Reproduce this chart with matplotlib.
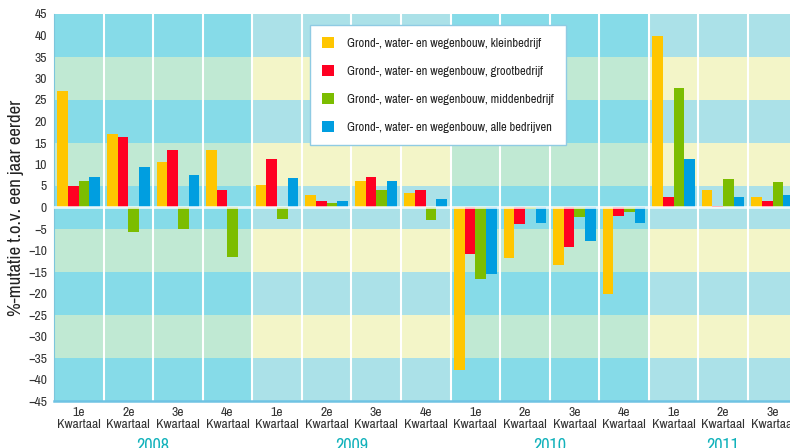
import numpy as np
import matplotlib
matplotlib.use('Agg')
import matplotlib.pyplot as plt
from matplotlib.patches import Rectangle
from matplotlib import font_manager

# pick a narrow font if there is one
fonts = font_manager.fontManager.ttflist
narrow = [f for f in fonts if 'Narrow' in f.name or 'Condensed' in f.name]
cond = [f for f in fonts if f.stretch in ('condensed', 'semi-condensed', 550, 600, 625, 650, 700)
        and f.style == 'normal' and f.weight in (400, 'normal', 'regular')]
stretch = 'normal'
if narrow:
    font = narrow[0].name
elif cond:
    font = cond[0].name
    stretch = 'condensed'
else:
    font = 'DejaVu Sans'
plt.rcParams['font.family'] = [font, 'DejaVu Sans']
plt.rcParams['font.stretch'] = stretch
scale = 1.0 if (narrow or cond) else 0.85

# data
quarters = ['1e', '2e', '3e', '4e',
            '1e', '2e', '3e', '4e',
            '1e', '2e', '3e', '4e',
            '1e', '2e', '3e']
years = ['2008', '2009', '2010', '2011']
year_quarters = [4, 4, 4, 3]

labels = ['Grond-, water- en wegenbouw, kleinbedrijf',
          'Grond-, water- en wegenbouw, grootbedrijf',
          'Grond-, water- en wegenbouw, middenbedrijf',
          'Grond-, water- en wegenbouw, alle bedrijven']

klein = [27.2, 17.2, 10.5, 13.4, 5.3, 2.9, 6.2, 3.4, -37.7, -11.8, -13.4, -20.2, 39.8, 4.1, 2.5]
groot = [5.0, 16.5, 13.4, 4.1, 11.3, 1.6, 7.1, 4.1, -10.8, -3.8, -9.2, -2.0, 2.5, 0.3, 1.5]
midden = [6.2, -5.7, -5.1, -11.4, -2.7, 1.0, 4.1, -2.9, -16.7, -0.4, -2.2, -1.0, 27.9, 6.7, 6.0]
alle = [7.1, 9.5, 7.6, 0.0, 6.9, 1.6, 6.2, 2.0, -15.5, -3.6, -7.8, -3.6, 11.3, 2.5, 2.9]

series = [klein, groot, midden, alle]
colors = ['#ffc600', '#ff0022', '#7cbd00', '#009ee0']

# background colours per year: (blue band, light band)
bg_even = ('#86dbe8', '#c0e9d3')
bg_odd = ('#abe1e8', '#f3f5c8')

fig = plt.figure(figsize=(7.9, 4.48), dpi=100)
ax = fig.add_axes([54/790, 47/448, 743.5/790, 387/448])

n = len(quarters)
x = np.arange(n)
ax.set_xlim(-0.5, n - 0.5)
ax.set_ylim(-45, 45)

# banded background
start = -0.5
for i, nq in enumerate(year_quarters):
    blue, light = bg_even if i % 2 == 0 else bg_odd
    for j, y0 in enumerate(range(-45, 45, 10)):
        c = blue if j % 2 == 0 else light
        ax.add_patch(Rectangle((start, y0), nq, 10, facecolor=c,
                               edgecolor='none', zorder=0))
    start += nq

# white separators between quarters
for b in np.arange(0.5, n - 0.5, 1):
    ax.axvline(b, color='white', lw=1.5, zorder=1)

w = 0.215
for k, (vals, col, lab) in enumerate(zip(series, colors, labels)):
    ax.bar(x + (k - 1.5) * w, vals, width=w, color=col, label=lab,
           zorder=2, linewidth=0)

ax.axhline(0, color='white', lw=2, alpha=0.8, zorder=3)

fs = 9.8 * scale
ax.set_yticks(np.arange(-45, 46, 5))
ax.set_xticks(x)
ax.set_xticklabels([q + '\nKwartaal' for q in quarters], linespacing=1.2)
ax.tick_params(axis='both', length=0, labelsize=fs, colors='#333333')
ax.tick_params(axis='x', pad=4)
ax.tick_params(axis='y', pad=5)

for s in ['top', 'right']:
    ax.spines[s].set_visible(False)
ax.spines['left'].set_color('#7cc6dc')
ax.spines['bottom'].set_color('#6fc3e3')
ax.spines['bottom'].set_linewidth(1.8)

ax.set_ylabel('%-mutatie t.o.v. een jaar eerder', fontsize=13.5 * scale, color='#222222')
ax.yaxis.set_label_coords(-30 / 743.5, 0.5)

# year labels
start = -0.5
for yr, nq in zip(years, year_quarters):
    ax.text(start + nq / 2, -0.095, yr, transform=ax.get_xaxis_transform(),
            ha='center', va='top', fontsize=13 * scale, color='#12b2bb')
    start += nq

leg = ax.legend(loc='upper left', bbox_to_anchor=(0.344, 0.972), borderaxespad=0,
                fontsize=9 * scale, frameon=True, fancybox=False, framealpha=1,
                handlelength=0.95 / scale, handleheight=0.95 / scale,
                handletextpad=1.0 / scale, labelspacing=1.3 / scale,
                borderpad=1.0 / scale)
leg.get_frame().set_edgecolor('#8fcbe3')
leg.get_frame().set_linewidth(1)
for t in leg.get_texts():
    t.set_color('#222222')

fig.savefig('out.png', dpi=100)
